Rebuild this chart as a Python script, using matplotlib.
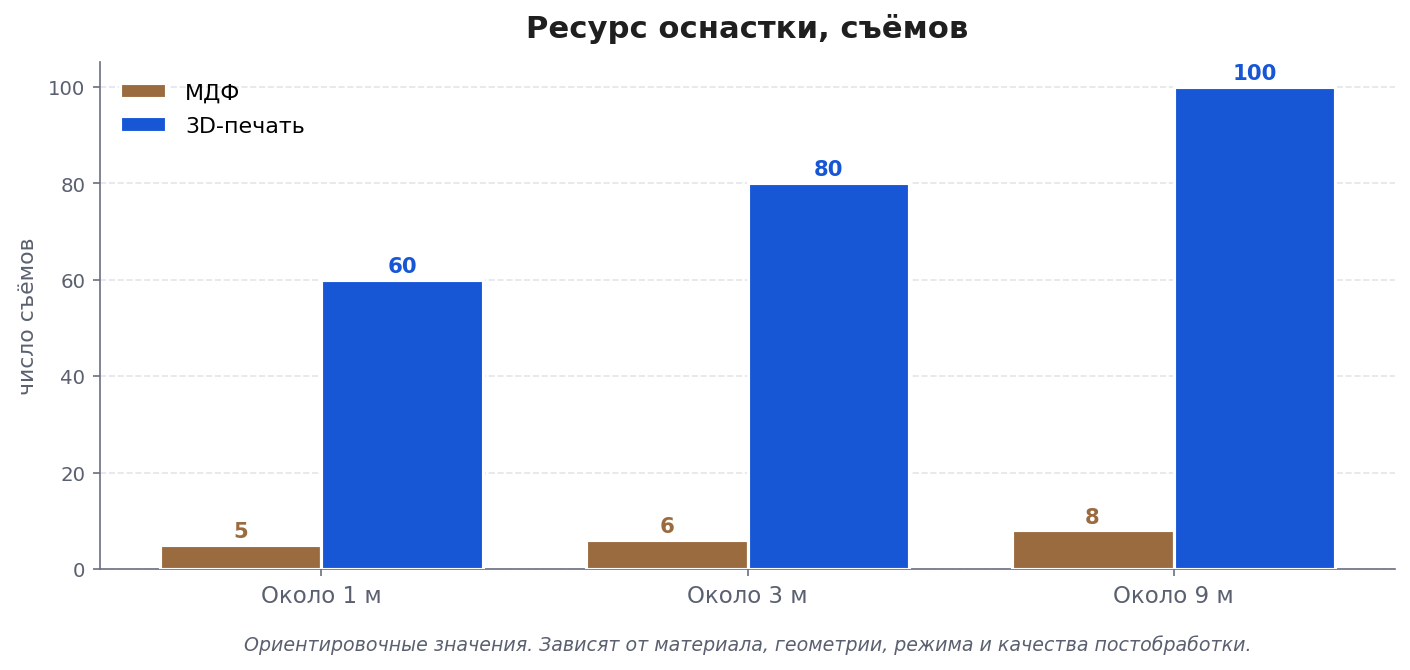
import numpy as np
import matplotlib.pyplot as plt

# Данные
categories = ["Около 1 м", "Около 3 м", "Около 9 м"]
mdf = [5, 6, 8]
printed = [60, 80, 100]
series_names = ["МДФ", "3D-печать"]

c_mdf = "#9b6b40"
c_3d = "#1757d6"
c_text = "#5a6070"

fig = plt.figure(figsize=(9.4, 4.473), dpi=150)
ax = fig.add_axes([0.0709, 0.1505, 0.9185, 0.755])

x = np.arange(len(categories))
w = 0.38
b1 = ax.bar(x - w / 2, mdf, w, color=c_mdf, edgecolor="white", linewidth=1.5, label=series_names[0], zorder=3)
b2 = ax.bar(x + w / 2, printed, w, color=c_3d, edgecolor="white", linewidth=1.5, label=series_names[1], zorder=3)

for bars, col in ((b1, c_mdf), (b2, c_3d)):
    for r in bars:
        ax.text(r.get_x() + r.get_width() / 2, r.get_height() + 0.8, f"{r.get_height():g}",
                ha="center", va="bottom", fontsize=10.2, fontweight="bold", color=col)

ax.set_xlim(-0.52, 2.52)
ax.set_ylim(0, 105)
ax.set_xticks(x)
ax.set_xticklabels(categories, fontsize=11, color=c_text)
ax.set_yticks([0, 20, 40, 60, 80, 100])
ax.tick_params(axis="y", labelsize=9.5, labelcolor=c_text, color="#6b7080")
ax.tick_params(axis="x", color="#6b7080", pad=3.5)
ax.set_ylabel("число съёмов", fontsize=10.5, color=c_text, labelpad=5)

ax.grid(axis="y", linestyle="--", color="#e3e5ea", linewidth=0.8, zorder=0)
for s in ("top", "right"):
    ax.spines[s].set_visible(False)
for s in ("left", "bottom"):
    ax.spines[s].set_color("#6b7080")

ax.set_title("Ресурс оснастки, съёмов", fontsize=14.7, fontweight="bold", color="#1f1f1f", pad=12)
ax.legend(loc="upper left", frameon=False, fontsize=10.6, handlelength=2.1, borderaxespad=0.5,
          labelspacing=0.6, handletextpad=0.85)

fig.text(0.5305, 0.024, "Ориентировочные значения. Зависят от материала, геометрии, режима и качества постобработки.",
         ha="center", va="bottom", fontsize=9.1, style="italic", color=c_text)

fig.savefig("out.png", dpi=150)
